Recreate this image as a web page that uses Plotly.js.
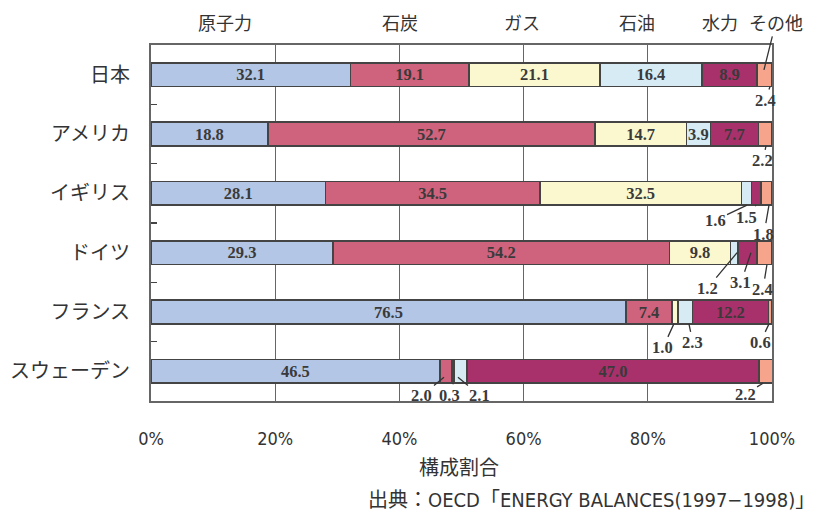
<!DOCTYPE html>
<html>
<head>
<meta charset="utf-8">
<script src="https://cdn.plot.ly/plotly-3.0.1.min.js"></script>
<style>
  html, body { margin: 0; padding: 0; background: #ffffff; }
  #chart { width: 818px; height: 512px; }
</style>
</head>
<body>
<div id="chart"></div>
<script>
// Power generation mix by country (share of total, %)
const countries = ['日本', 'アメリカ', 'イギリス', 'ドイツ', 'フランス', 'スウェーデン'];
const sources = ['原子力', '石炭', 'ガス', '石油', '水力', 'その他'];
const nuclear = [32.1, 18.8, 28.1, 29.3, 76.5, 46.5];
const coal    = [19.1, 52.7, 34.5, 54.2, 7.4, 2.0];
const gas     = [21.1, 14.7, 32.5, 9.8, 1.0, 0.3];
const oil     = [16.4, 3.9, 1.6, 1.2, 2.3, 2.1];
const hydro   = [8.9, 7.7, 1.5, 3.1, 12.2, 47.0];
const other   = [2.4, 2.2, 1.8, 2.4, 0.6, 2.2];
const xTickVals = [0, 20, 40, 60, 80, 100];
const xTickText = ['0%', '20%', '40%', '60%', '80%', '100%'];
const axisTitle = '構成割合';
const sourceNote = '出典：OECD「ENERGY BALANCES(1997−1998)」';

const series = [nuclear, coal, gas, oil, hydro, other];
const colors = ['#b3c6e6', '#cf627c', '#fbf8cf', '#d6ebf3', '#a8316b', '#f6a48b'];

const numFont = { family: '"Liberation Serif", "DejaVu Serif", serif', size: 16.5, color: '#3a3a3a' };
const jpFont = '"Noto Sans CJK JP", "Noto Sans", sans-serif';
const narrowFont = '"Liberation Sans Narrow", "DejaVu Sans Condensed", "Noto Sans CJK JP", sans-serif';

// segments narrower than this get an outside callout instead of an inside label
const INSIDE_MIN = 3.5;
const BAR_WIDTH = 0.4;

const traces = series.map((vals, s) => ({
  type: 'bar',
  orientation: 'h',
  name: sources[s],
  y: countries,
  x: vals,
  width: BAR_WIDTH,
  marker: { color: colors[s], line: { color: '#444444', width: 1.5 } },
  text: vals.map(v => (v >= INSIDE_MIN ? v.toFixed(1) : '')),
  textposition: 'inside',
  insidetextanchor: 'middle',
  textangle: 0,
  constraintext: 'none',
  textfont: { family: numFont.family, size: numFont.size, color: numFont.color, weight: 'bold' },
  hoverinfo: 'name+x+y'
}));

// callout placement: [country, source, position along segment (0..1),
//                     vertical tip position (0 = bar centre, 1 = bar bottom edge), dx px, dy px]
const callouts = [
  [0, 5, 0.87, 1.0, -5, 14],
  [1, 5, 0.56, 1.0, -3, 15],
  [2, 3, 0.55, 1.0, -32, 15],
  [2, 4, 0.48, 1.0, -9, 12],
  [2, 5, 0.73, 1.0, -5, 29],
  [3, 3, 0.90, 0.0, -30, 36],
  [3, 4, 0.68, 0.0, -10, 30],
  [3, 5, 0.66, 1.0, -4, 25],
  [4, 2, 0.30, 1.0, -11, 24],
  [4, 3, 0.75, 1.0, 4, 19],
  [4, 5, 0.20, 1.0, -9, 19],
  [5, 1, 0.34, 0.5, -22, 18],
  [5, 2, 0.50, 1.0, -4, 12],
  [5, 3, 0.30, 0.5, 22, 18],
  [5, 5, 0.30, 1.0, -18, 11]
];

function segStart(c, s) {
  let t = 0;
  for (let k = 0; k < s; k++) t += series[k][c];
  return t;
}

const annotations = callouts.map(([c, s, f, d, dx, dy]) => ({
  x: segStart(c, s) + f * series[s][c],
  y: c + d * BAR_WIDTH / 2,
  xref: 'x', yref: 'y',
  text: '<b>' + series[s][c].toFixed(1) + '</b>',
  font: numFont,
  showarrow: true, arrowhead: 0, arrowwidth: 1.3, arrowcolor: '#333333',
  ax: dx, ay: dy, standoff: 0, startstandoff: 0
}));

// source names along the top
const headerX = [11.9, 40.1, 59.7, 78.3, 91.6];
headerX.forEach((hx, s) => {
  annotations.push({
    x: hx, y: 1.065, xref: 'x', yref: 'paper',
    text: sources[s], showarrow: false,
    font: { family: jpFont, size: 18, color: '#333333' },
    xanchor: 'center', yanchor: 'middle'
  });
});
// "その他" header points down to the first bar's last segment
annotations.push({
  x: segStart(0, 5) + 0.46 * other[0], y: 0 - 0.4 * BAR_WIDTH / 2,
  xref: 'x', yref: 'y',
  text: sources[5], showarrow: true, arrowhead: 0, arrowwidth: 1.3, arrowcolor: '#333333',
  ax: 12, ay: -48, standoff: 0, startstandoff: 0,
  font: { family: jpFont, size: 18, color: '#333333' }
});

annotations.push({
  x: 0.496, y: -0.185, xref: 'paper', yref: 'paper',
  text: axisTitle, showarrow: false,
  font: { family: jpFont, size: 20, color: '#333333' },
  xanchor: 'center', yanchor: 'middle'
});
annotations.push({
  x: 1.072, y: -0.278, xref: 'paper', yref: 'paper',
  text: sourceNote, showarrow: false,
  font: { family: narrowFont, size: 20, color: '#333333' },
  xanchor: 'right', yanchor: 'middle'
});

const layout = {
  width: 818, height: 512,
  margin: { l: 151, r: 46, t: 45, b: 111, pad: 0 },
  paper_bgcolor: '#ffffff', plot_bgcolor: '#ffffff',
  barmode: 'stack',
  showlegend: false,
  xaxis: {
    range: [0, 100], fixedrange: true,
    tickvals: xTickVals, ticktext: xTickText,
    ticks: '', ticklabelstandoff: 20,
    tickfont: { family: narrowFont, size: 18, color: '#333333' },
    showgrid: true, gridcolor: '#666666', gridwidth: 1.2,
    zeroline: false,
    showline: true, linecolor: '#666666', linewidth: 2, mirror: true
  },
  yaxis: {
    type: 'category', range: [5.5, -0.5], fixedrange: true,
    ticks: 'inside', tickson: 'boundaries', ticklen: 6, tickcolor: '#444444', tickwidth: 1.2,
    ticklabelstandoff: 15,
    tickfont: { family: jpFont, size: 20, color: '#333333' },
    showgrid: false, zeroline: false,
    showline: true, linecolor: '#666666', linewidth: 2, mirror: true
  },
  annotations: annotations
};

Plotly.newPlot('chart', traces, layout, { displayModeBar: false, staticPlot: true });
</script>
</body>
</html>
